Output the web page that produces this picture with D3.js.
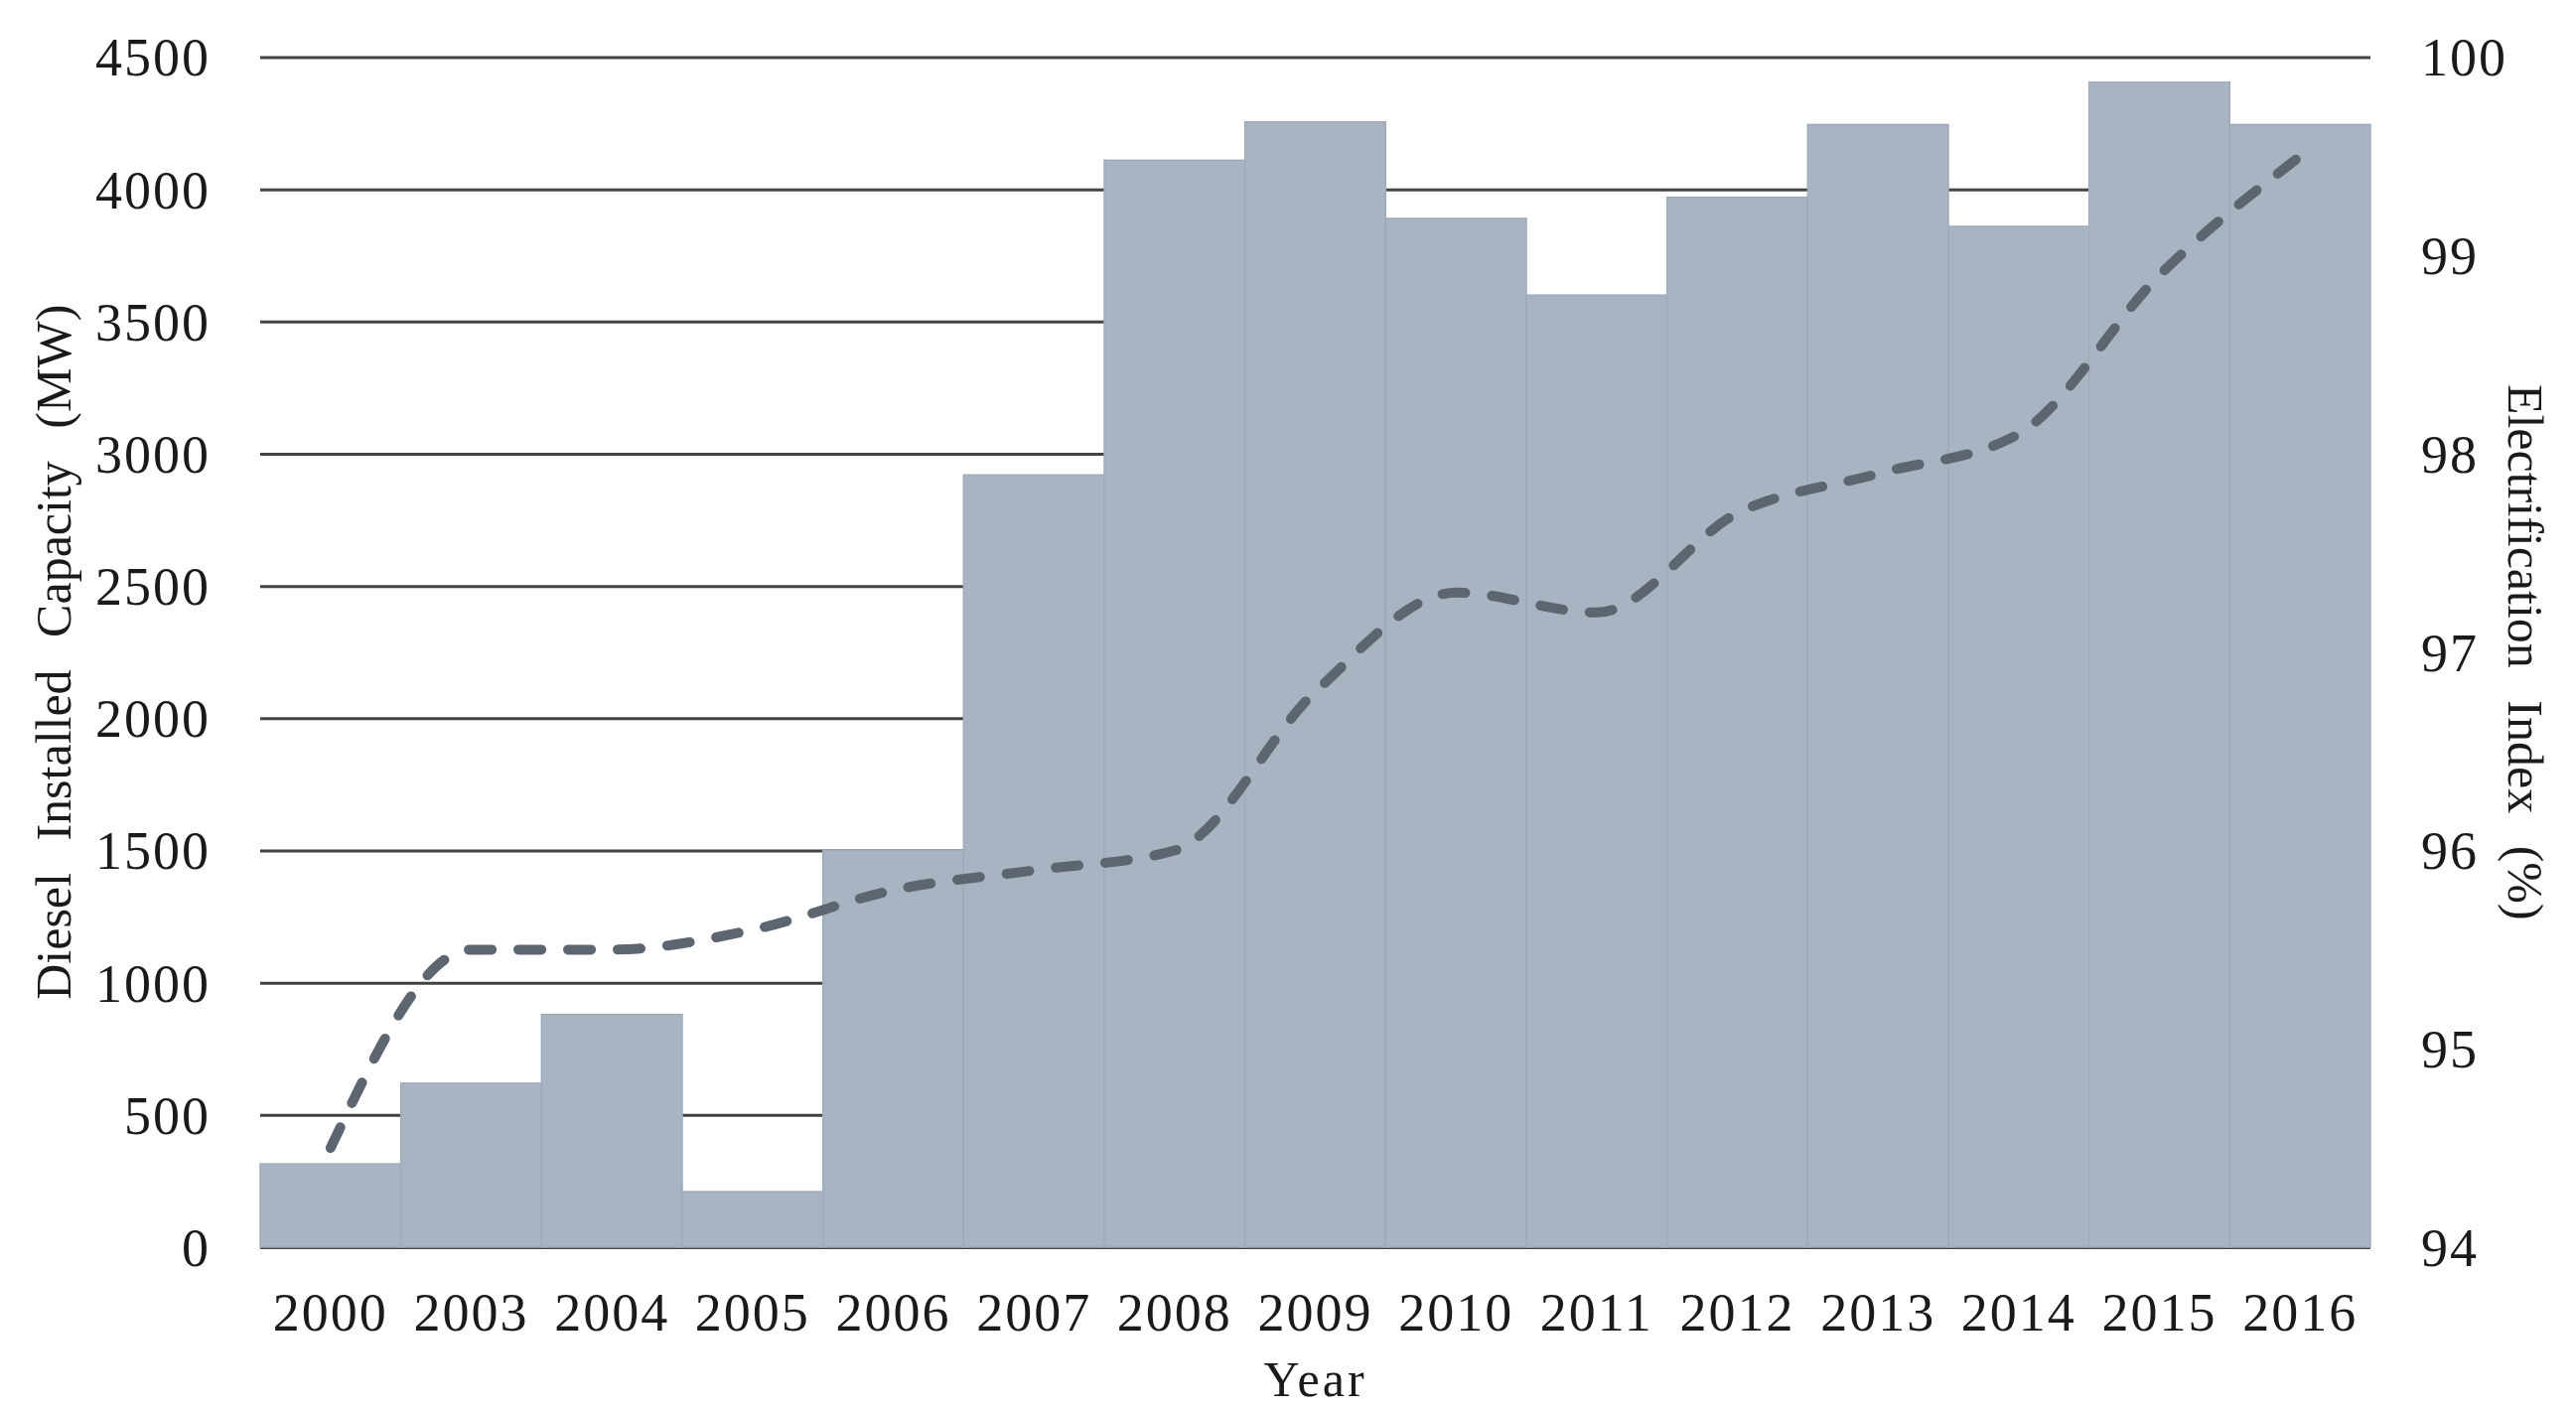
<!DOCTYPE html>
<html>
<head>
<meta charset="utf-8">
<script src="https://d3js.org/d3.v7.min.js"></script>
<style>
    body { margin: 0; background: #ffffff; }
    text { font-family: "Liberation Serif", "Times New Roman", serif; fill: #1a1a1a; }
</style>
</head>
<body>
<div id="visualContainer"></div>
<script>
var width = 2594;
var height = 1420;

// chart data
var years = ["2000", "2003", "2004", "2005", "2006", "2007", "2008", "2009", "2010", "2011", "2012", "2013", "2014", "2015", "2016"];
var dieselCapacity = [315, 620, 880, 210, 1500, 2920, 4110, 4255, 3890, 3600, 3970, 4245, 3860, 4405, 4245];
var electrification = [94.5, 95.5, 95.5, 95.6, 95.8, 95.9, 96.0, 96.8, 97.3, 97.2, 97.7, 97.9, 98.1, 98.9, 99.5];
var leftTicks = [0, 500, 1000, 1500, 2000, 2500, 3000, 3500, 4000, 4500];
var rightTicks = [94, 95, 96, 97, 98, 99, 100];

var plotLeft = 262;
var plotRight = 2387;
var plotTop = 57.5;
var plotBottom = 1256;

var xScale = d3.scaleBand()
    .domain(years)
    .range([plotLeft, plotRight])
    .paddingInner(0)
    .paddingOuter(0);

var yScale = d3.scaleLinear()
    .domain([0, 4500])
    .range([plotBottom, plotTop]);

var yScale2 = d3.scaleLinear()
    .domain([94, 100])
    .range([plotBottom, plotTop]);

var svgCanvas = d3.select("#visualContainer")
    .append("svg")
    .attr("width", width)
    .attr("height", height);

// gridlines + left labels
var leftAxis = svgCanvas.append("g")
    .attr("transform", "translate(" + plotLeft + ",0)")
    .call(d3.axisLeft(yScale)
        .tickValues(leftTicks)
        .tickFormat(d3.format("d"))
        .tickSizeInner(-(plotRight - plotLeft))
        .tickSizeOuter(0)
        .tickPadding(50));
leftAxis.select(".domain").remove();
leftAxis.selectAll(".tick line")
    .attr("stroke", "#424242")
    .attr("stroke-width", 3);
leftAxis.selectAll(".tick text")
    .attr("font-size", 54)
    .attr("letter-spacing", 2)
    .attr("dy", "0.34em");

// bars
svgCanvas.selectAll("rect.bar")
    .data(dieselCapacity)
    .enter()
    .append("rect")
    .attr("class", "bar")
    .attr("x", function(d, i) { return xScale(years[i]); })
    .attr("width", xScale.bandwidth())
    .attr("y", function(d) { return yScale(d); })
    .attr("height", function(d) { return plotBottom - yScale(d); })
    .attr("fill", "#a9b4c3")
    .attr("stroke", "#a0abba")
    .attr("stroke-width", 1.5);

// electrification line
var line = d3.line()
    .x(function(d, i) { return xScale(years[i]) + xScale.bandwidth() / 2; })
    .y(function(d) { return yScale2(d); })
    .curve(d3.curveMonotoneX);

svgCanvas.append("path")
    .datum(electrification)
    .attr("d", line)
    .attr("fill", "none")
    .attr("stroke", "#5d6570")
    .attr("stroke-width", 10)
    .attr("stroke-linecap", "round")
    .attr("stroke-dasharray", "23 27");

// right axis
var rightAxis = svgCanvas.append("g")
    .attr("transform", "translate(" + plotRight + ",0)")
    .call(d3.axisRight(yScale2)
        .tickValues(rightTicks)
        .tickFormat(d3.format("d"))
        .tickSize(0)
        .tickPadding(51));
rightAxis.select(".domain").remove();
rightAxis.selectAll(".tick text")
    .attr("font-size", 54)
    .attr("letter-spacing", 2)
    .attr("dy", "0.34em");

// bottom axis
var bottomAxis = svgCanvas.append("g")
    .attr("transform", "translate(0," + plotBottom + ")")
    .call(d3.axisBottom(xScale).tickSize(0).tickPadding(46));
bottomAxis.select(".domain").remove();
bottomAxis.selectAll(".tick text")
    .attr("font-size", 54)
    .attr("letter-spacing", 2)
    .attr("dy", "0.71em");

// axis titles
svgCanvas.append("text")
    .attr("transform", "translate(53," + (plotTop + plotBottom) / 2 + ") rotate(-90)")
    .attr("text-anchor", "middle")
    .attr("dy", "0.35em")
    .attr("font-size", 50)
    .attr("word-spacing", 20)
    .text("Diesel Installed Capacity (MW)");

svgCanvas.append("text")
    .attr("transform", "translate(2543," + (plotTop + plotBottom) / 2 + ") rotate(90)")
    .attr("text-anchor", "middle")
    .attr("dy", "0.35em")
    .attr("font-size", 50)
    .attr("word-spacing", 20)
    .text("Electrification Index (%)");

svgCanvas.append("text")
    .attr("x", (plotLeft + plotRight) / 2)
    .attr("y", 1406)
    .attr("text-anchor", "middle")
    .attr("font-size", 50)
    .attr("letter-spacing", 3)
    .text("Year");
</script>
</body>
</html>
